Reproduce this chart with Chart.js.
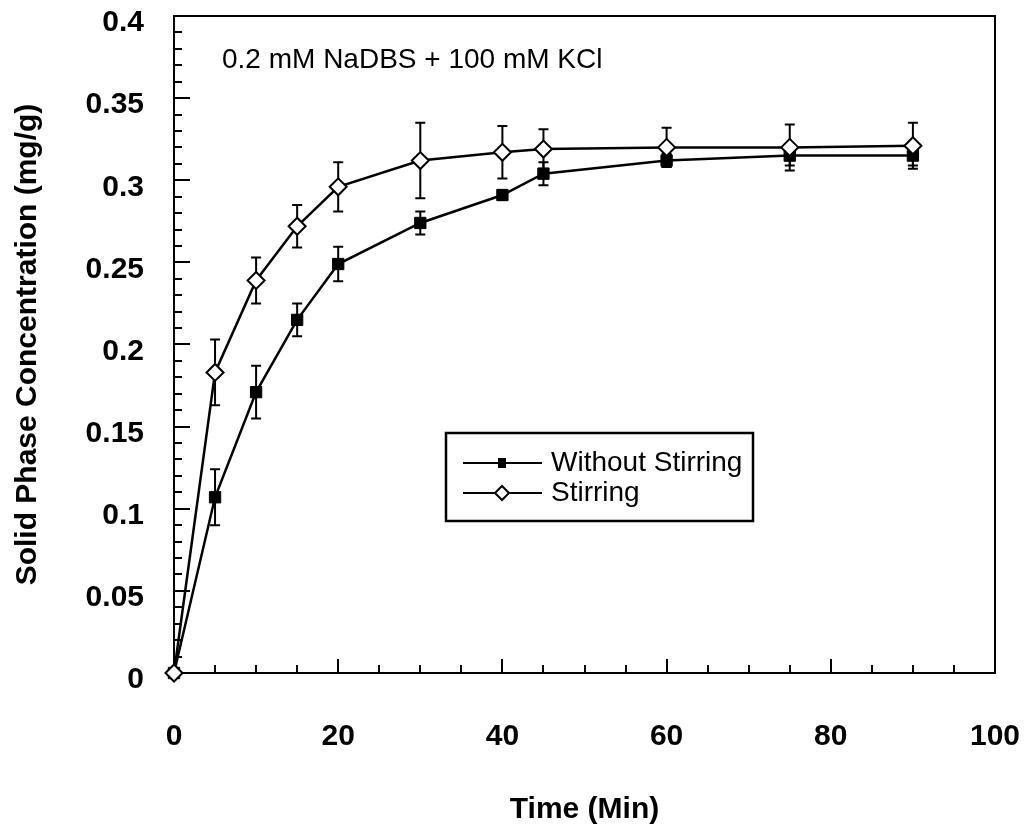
<!DOCTYPE html>
<html>
<head>
<meta charset="utf-8">
<script src="https://cdn.jsdelivr.net/npm/chart.js@4/dist/chart.umd.min.js"></script>
<style>
  html, body { margin: 0; padding: 0; background: #fff; }
  #wrap { width: 1027px; height: 832px; }
</style>
</head>
<body>
<div id="wrap"><canvas id="chart" width="1027" height="832"></canvas></div>
<script>
// values
const times = [0, 5, 10, 15, 20, 30, 40, 45, 60, 75, 90];
const withoutStirring = [0, 0.107, 0.171, 0.215, 0.249, 0.274, 0.291, 0.304, 0.312, 0.315, 0.315];
const withoutStirringErr = [0, 0.017, 0.016, 0.010, 0.0105, 0.007, 0.003, 0.007, 0.004, 0.006, 0.006];
const stirring = [0, 0.183, 0.239, 0.272, 0.296, 0.312, 0.317, 0.319, 0.320, 0.320, 0.321];
const stirringErr = [0, 0.020, 0.014, 0.013, 0.015, 0.023, 0.016, 0.012, 0.012, 0.014, 0.014];
const seriesNames = ['Without Stirring', 'Stirring'];
const noteText = '0.2 mM NaDBS + 100 mM KCl';

const FONT = 'Arial, "Liberation Sans", sans-serif';

function toPoints(ys) {
  return times.map((t, i) => ({ x: t, y: ys[i] }));
}

// error bars, drawn under the markers
const errorBars = {
  id: 'errorBars',
  beforeDatasetsDraw(chart) {
    const ctx = chart.ctx;
    const xs = chart.scales.x, ys = chart.scales.y;
    const errs = [withoutStirringErr, stirringErr];
    ctx.save();
    ctx.strokeStyle = '#000';
    ctx.lineWidth = 2;
    chart.data.datasets.forEach((ds, d) => {
      ds.data.forEach((p, i) => {
        const e = errs[d][i];
        if (!e) return;
        const px = xs.getPixelForValue(p.x);
        const top = ys.getPixelForValue(p.y + e);
        const bot = ys.getPixelForValue(p.y - e);
        ctx.beginPath();
        ctx.moveTo(px, top); ctx.lineTo(px, bot);
        ctx.moveTo(px - 5, top); ctx.lineTo(px + 5, top);
        ctx.moveTo(px - 5, bot); ctx.lineTo(px + 5, bot);
        ctx.stroke();
      });
    });
    ctx.restore();
  }
};

// box frame plus inward ticks
const frame = {
  id: 'frame',
  beforeDatasetsDraw(chart) {
    const ctx = chart.ctx;
    const a = chart.chartArea;
    const xs = chart.scales.x, ys = chart.scales.y;
    ctx.save();
    ctx.strokeStyle = '#000';
    ctx.lineWidth = 2;
    ctx.strokeRect(a.left, a.top, a.right - a.left, a.bottom - a.top);
    ctx.beginPath();
    for (let v = 0; v <= 0.4001; v += 0.01) {
      const y = Math.round(ys.getPixelForValue(v));
      const major = Math.abs(v / 0.05 - Math.round(v / 0.05)) < 1e-6;
      ctx.moveTo(a.left, y);
      ctx.lineTo(a.left + (major ? 16 : 8), y);
    }
    for (let v = 5; v < 100; v += 5) {
      const x = Math.round(xs.getPixelForValue(v));
      ctx.moveTo(x, a.bottom);
      ctx.lineTo(x, a.bottom - (v % 20 === 0 ? 14 : 8));
    }
    ctx.stroke();
    ctx.restore();
  }
};

// note text and boxed legend inside the plot
const notes = {
  id: 'notes',
  afterDraw(chart) {
    const ctx = chart.ctx;
    ctx.save();
    ctx.fillStyle = '#000';
    ctx.font = '28px ' + FONT;
    ctx.textBaseline = 'middle';
    ctx.textAlign = 'left';
    ctx.fillText(noteText, 222, 60);

    // legend box
    ctx.lineWidth = 2.5;
    ctx.strokeStyle = '#000';
    ctx.strokeRect(446, 433, 307, 88);
    const rows = [463, 493];
    rows.forEach((y, i) => {
      ctx.lineWidth = 2;
      ctx.beginPath();
      ctx.moveTo(463, y); ctx.lineTo(542, y);
      ctx.stroke();
      const cx = 502;
      if (i === 0) {
        ctx.fillStyle = '#000';
        ctx.fillRect(cx - 4, y - 5, 8, 10);
      } else {
        ctx.fillStyle = '#fff';
        ctx.beginPath();
        ctx.moveTo(cx, y - 7); ctx.lineTo(cx + 7, y);
        ctx.lineTo(cx, y + 7); ctx.lineTo(cx - 7, y);
        ctx.closePath();
        ctx.fill();
        ctx.stroke();
      }
      ctx.fillStyle = '#000';
      ctx.fillText(seriesNames[i], 551, y);
    });
    ctx.restore();
  }
};

new Chart(document.getElementById('chart'), {
  type: 'line',
  data: {
    datasets: [
      {
        label: seriesNames[0],
        data: toPoints(withoutStirring),
        borderColor: '#000',
        borderWidth: 2.5,
        pointStyle: 'rect',
        pointRadius: 8,
        pointBackgroundColor: '#000',
        pointBorderColor: '#000',
        pointBorderWidth: 1,
        tension: 0,
        clip: false,
        order: 1
      },
      {
        label: seriesNames[1],
        data: toPoints(stirring),
        borderColor: '#000',
        borderWidth: 2.5,
        pointStyle: 'rectRot',
        pointRadius: 8.5,
        pointBackgroundColor: '#fff',
        pointBorderColor: '#000',
        pointBorderWidth: 2,
        tension: 0,
        clip: false,
        order: 0
      }
    ]
  },
  options: {
    responsive: false,
    animation: false,
    events: [],
    layout: { padding: { top: 16, right: 32, left: 0, bottom: 0 } },
    plugins: {
      legend: { display: false },
      tooltip: { enabled: false }
    },
    scales: {
      x: {
        type: 'linear',
        min: 0,
        max: 100,
        grid: { display: false, drawTicks: false },
        border: { display: false },
        ticks: {
          stepSize: 20,
          padding: 46,
          color: '#000',
          font: { family: FONT, size: 30, weight: 'bold' }
        },
        title: {
          display: true,
          text: 'Time (Min)',
          color: '#000',
          padding: { top: 0, bottom: 4 },
          font: { family: FONT, size: 30, weight: 'bold' }
        },
        afterFit(scale) {
          scale.height = 159;
          scale.paddingLeft = 0;
          scale.paddingRight = 0;
        }
      },
      y: {
        min: 0,
        max: 0.4,
        grid: { display: false, drawTicks: false },
        border: { display: false },
        ticks: {
          stepSize: 0.05,
          padding: 30,
          labelOffset: 7,
          color: '#000',
          font: { family: FONT, size: 30, weight: 'bold' },
          callback: v => String(+v.toFixed(2))
        },
        title: {
          display: true,
          text: 'Solid Phase Concentration (mg/g)',
          color: '#000',
          padding: { top: 10, bottom: 0 },
          font: { family: FONT, size: 30, weight: 'bold' }
        },
        afterFit(scale) {
          scale.width = 174;
          scale.paddingTop = 0;
          scale.paddingBottom = 0;
        }
      }
    }
  },
  plugins: [frame, errorBars, notes]
});
</script>
</body>
</html>
